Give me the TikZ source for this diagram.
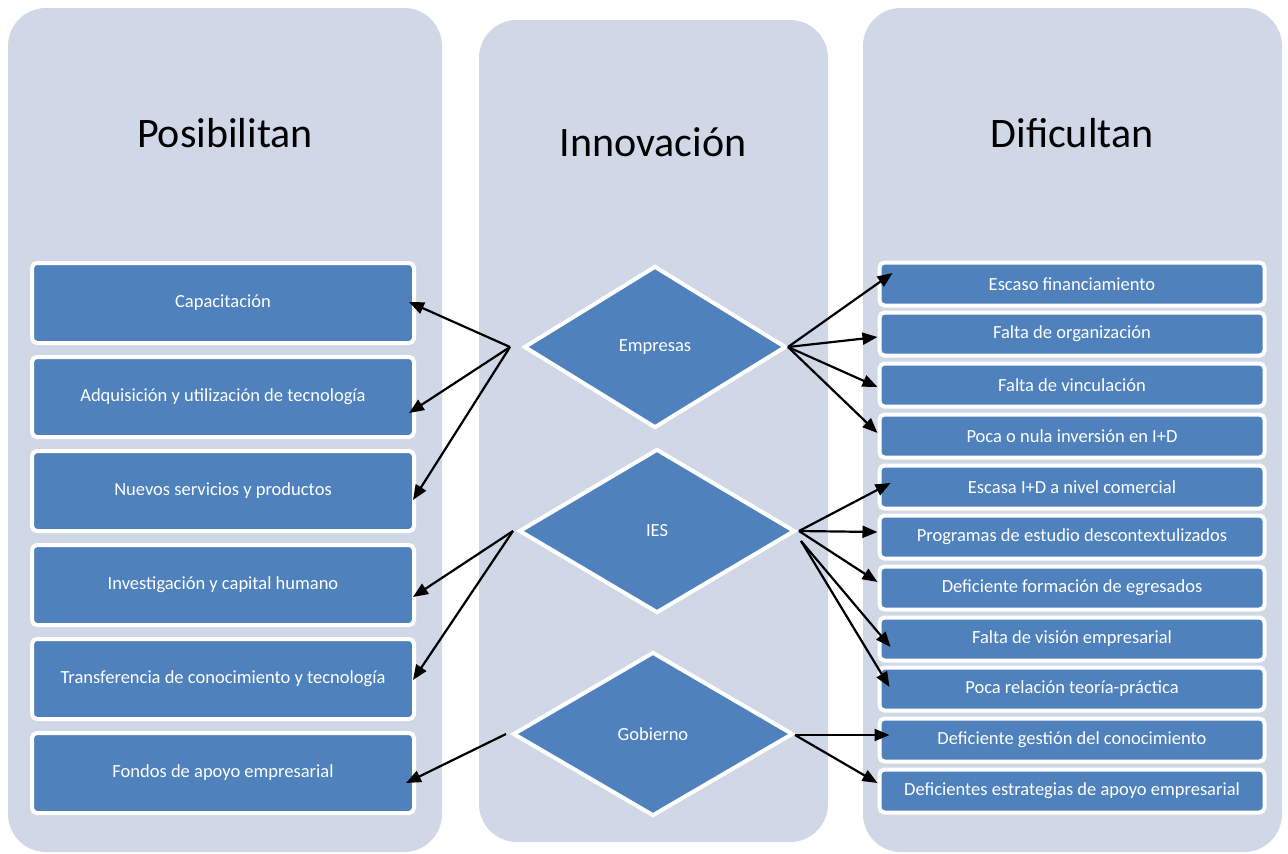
\documentclass[tikz,border=0pt]{standalone}
\usepackage{fontspec}
\setmainfont{Carlito}
\usetikzlibrary{shapes.geometric,arrows.meta,calc}
\definecolor{panelbg}{HTML}{D0D8E8}
\definecolor{boxblue}{HTML}{4F81BD}
\begin{document}
\begin{tikzpicture}[x=1pt, y=-1pt,
    panel/.style = {fill=panelbg, rounded corners=38pt},
    title/.style = {font=\fontsize{42}{50}\selectfont},
    item/.style = {draw=white, line width=4pt, fill=boxblue, rounded corners=5pt, text=white, inner sep=0pt, font=\fontsize{18.5}{22}\selectfont},
    litem/.style = {item, minimum width=382pt, minimum height=80pt},
    ritem/.style = {item, minimum width=385pt, minimum height=43pt},
    hub/.style = {diamond, draw=white, line width=4pt, fill=boxblue, text=white, inner sep=0pt, font=\fontsize{18.5}{22}\selectfont},
    link/.style = {-{Triangle[length=15pt,width=12pt]}, line width=2.2pt}]
        \useasboundingbox (0,0) rectangle (1288,854);
        \fill[panel] (8,8) rectangle (442,852);
        \fill[panel] (479,20) rectangle (828,842);
        \fill[panel] (863,8) rectangle (1282,852);
        %
        \node[title] (pos) at (225,133) {Posibilitan};
        \node[title] (inn) at (653,142) {Innovación};
        \node[title] (dif) at (1072,133) {Dificultan};
        %
        \node[litem] (cap) at (223,303) {Capacitación};
        \node[litem] (adq) at (223,397) {Adquisición y utilización de tecnología};
        \node[litem] (nue) at (223,491) {Nuevos servicios y productos};
        \node[litem] (inv) at (223,585) {Investigación y capital humano};
        \node[litem] (tra) at (223,679) {Transferencia de conocimiento y tecnología};
        \node[litem] (fon) at (223,773) {Fondos de apoyo empresarial};
        %
        \node[hub, minimum width=262pt, minimum height=162pt] (emp) at (655,347) {Empresas};
        \node[hub, minimum width=276pt, minimum height=164pt] (ies) at (657,531) {IES};
        \node[hub, minimum width=280pt, minimum height=164pt] (gob) at (653,734) {Gobierno};
        %
        \node[ritem] (esc) at (1072,284) {Escaso financiamiento};
        \node[ritem] (org) at (1072,334) {Falta de organización};
        \node[ritem] (vin) at (1072,385) {Falta de vinculación};
        \node[ritem] (poc) at (1072,436) {Poca o nula inversión en I+D};
        \node[ritem] (com) at (1072,487) {Escasa I+D a nivel comercial};
        \node[ritem] (pro) at (1072,537) {Programas de estudio descontextulizados};
        \node[ritem] (egr) at (1072,588) {Deficiente formación de egresados};
        \node[ritem] (vis) at (1072,639) {Falta de visión empresarial};
        \node[ritem] (teo) at (1072,689) {Poca relación teoría-práctica};
        \node[ritem] (ges) at (1072,740) {Deficiente gestión del conocimiento};
        \node[ritem] (est) at (1072,791) {Deficientes estrategias de apoyo empresarial};
        %
        \coordinate (empL) at ($(emp.west)+(-12,0)$);
        \coordinate (empR) at ($(emp.east)+(0,0)$);
        \coordinate (iesL) at ($(ies.west)+(-4,0)$);
        \coordinate (iesR) at ($(ies.east)+(2,0)$);
        \coordinate (iesR2) at ($(ies.east)+(4,10)$);
        \coordinate (gobL) at ($(gob.west)+(-5,0)$);
        \coordinate (gobR) at ($(gob.east)+(0,1)$);
        %
        \draw[link] (empL) -- ($(cap.east)+(-7,-1)$);
        \draw[link] (empL) -- ($(adq.east)+(-7,16)$);
        \draw[link] (empL) -- ($(nue.east)+(-3,9)$);
        \draw[link] (iesL) -- ($(inv.east)+(-3,12)$);
        \draw[link] (iesL) -- ($(tra.east)+(-3,1)$);
        \draw[link] (gobL) -- ($(fon.east)+(-10,10)$);
        %
        \draw[link] (empR) -- ($(esc.west)+(15,-11)$);
        \draw[link] (empR) -- ($(org.west)+(0,3)$);
        \draw[link] (empR) -- ($(vin.west)+(0,2)$);
        \draw[link] (empR) -- ($(poc.west)+(0,-3)$);
        \draw[link] (iesR) -- ($(com.west)+(13,-4)$);
        \draw[link] (iesR) -- ($(pro.west)+(0,-5)$);
        \draw[link] (iesR) -- ($(egr.west)+(0,-6)$);
        \draw[link] (iesR2) -- ($(vis.west)+(13,8)$);
        \draw[link] (iesR2) -- ($(teo.west)+(12,-2)$);
        \draw[link] (gobR) -- ($(ges.west)+(12,-5)$);
        \draw[link] (gobR) -- ($(est.west)+(0,-8)$);
\end{tikzpicture}
\end{document}
